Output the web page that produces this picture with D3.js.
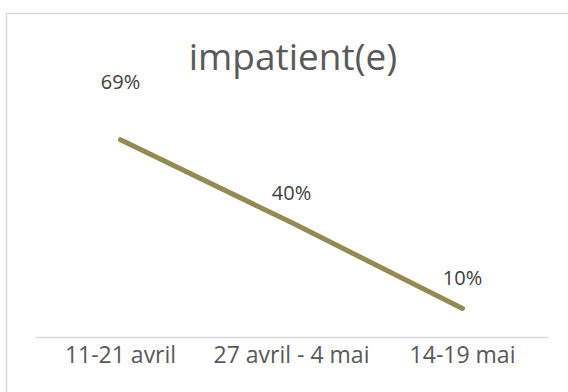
<!DOCTYPE html>
<html>
<head>
<meta charset="utf-8">
<script src="https://cdn.jsdelivr.net/npm/d3@7"></script>
<style>
  html, body { margin: 0; padding: 0; background: #fff; }
  svg { display: block; }
  text { font-family: "Open Sans", "DejaVu Sans", sans-serif; }
</style>
</head>
<body>
<svg id="chart" width="568" height="392"></svg>
<script>
// Share of respondents describing themselves as impatient, per survey wave
const categories = ["11-21 avril", "27 avril - 4 mai", "14-19 mai"];
const values = [69, 40, 10];
const valueLabels = ["69%", "40%", "10%"];
const chartTitle = "impatient(e)";

const svg = d3.select("#chart");

// outer chart frame
svg.append("rect")
  .attr("x", 6.5).attr("y", 13.5)
  .attr("width", 600).attr("height", 420)
  .attr("fill", "#fff")
  .attr("stroke", "#d9d9d9").attr("stroke-width", 1.5);

const plot = { left: 35, right: 548, top: 51, bottom: 337 };

const x = d3.scaleBand()
  .domain(categories)
  .range([plot.left, plot.right]);

const y = d3.scaleLinear()
  .domain([0, 100])
  .range([plot.bottom, plot.top]);

// title
svg.append("text")
  .attr("x", 293).attr("y", 70)
  .attr("text-anchor", "middle")
  .attr("font-size", 37)
  .attr("fill", "#595959")
  .text(chartTitle);

// category axis
const xAxis = d3.axisBottom(x).tickSize(0).tickPadding(10);
const gx = svg.append("g")
  .attr("transform", `translate(0,${plot.bottom})`)
  .call(xAxis);
gx.select(".domain").attr("stroke", "#d9d9d9").attr("stroke-width", 1.5);
gx.selectAll("text")
  .attr("font-size", 23)
  .attr("fill", "#595959")
  .attr("font-family", "\"Open Sans\", \"DejaVu Sans\", sans-serif");

const cx = d => x(d) + x.bandwidth() / 2;

// series line
const line = d3.line()
  .x((d, i) => cx(categories[i]))
  .y(d => y(d));

svg.append("path")
  .datum(values)
  .attr("d", line)
  .attr("fill", "none")
  .attr("stroke", "#948a54")
  .attr("stroke-width", 5)
  .attr("stroke-linecap", "round")
  .attr("stroke-linejoin", "round");

// value labels above the points
const labelLift = [51, 23, 23];
svg.selectAll(".vlabel")
  .data(values)
  .enter().append("text")
  .attr("class", "vlabel")
  .attr("x", (d, i) => cx(categories[i]))
  .attr("y", (d, i) => y(d) - labelLift[i])
  .attr("text-anchor", "middle")
  .attr("font-size", 20)
  .attr("fill", "#404040")
  .text((d, i) => valueLabels[i]);
</script>
</body>
</html>
